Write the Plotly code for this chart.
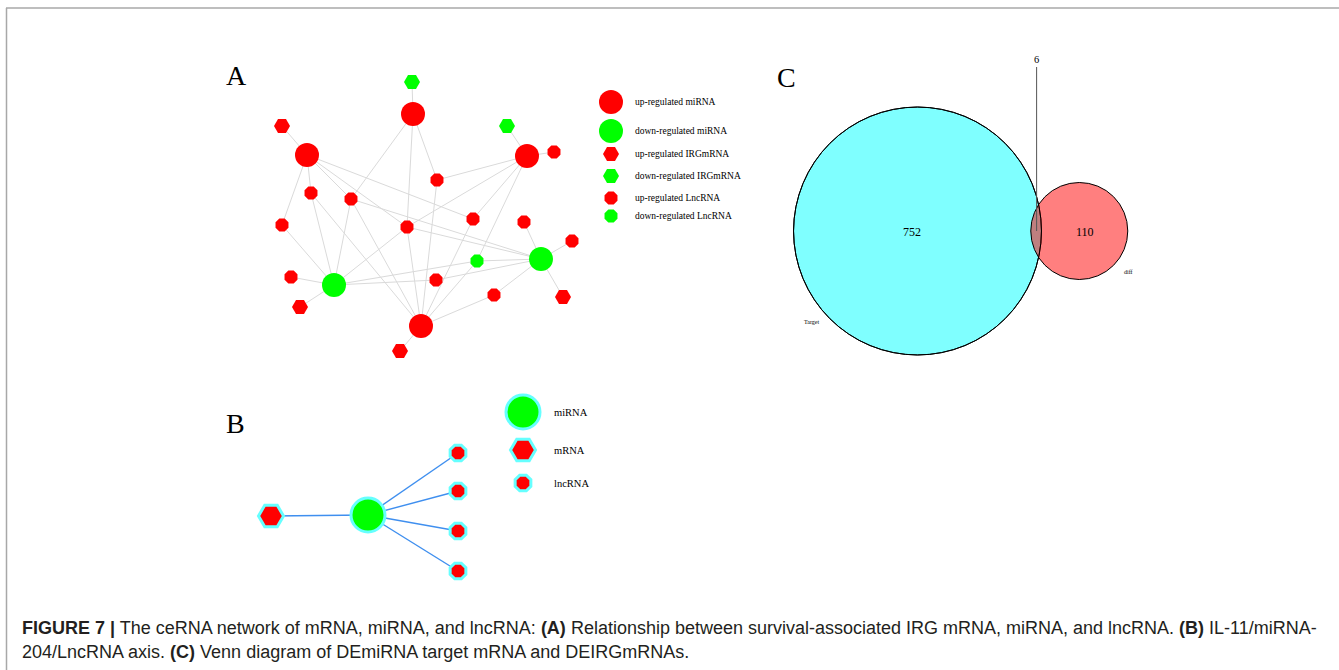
import math
import plotly.graph_objects as go

W, H = 1339, 670

# ---------------- Panel A: ceRNA network ----------------
a_x = [412, 413, 282, 307, 507, 527, 554, 437, 311, 351, 473, 524, 282,
       407, 572, 541, 477, 291, 334, 436, 494, 563, 300, 421, 400]
a_y = [82, 114, 126, 155, 126, 156, 152, 180, 193, 199, 219, 222, 225,
       227, 241, 259, 261, 277, 285, 280, 295, 297, 307, 326, 351]
a_type = ["mRNA", "miRNA", "mRNA", "miRNA", "mRNA", "miRNA", "lncRNA",
          "lncRNA", "lncRNA", "lncRNA", "lncRNA", "lncRNA", "lncRNA",
          "lncRNA", "lncRNA", "miRNA", "lncRNA", "lncRNA", "miRNA",
          "lncRNA", "lncRNA", "mRNA", "mRNA", "miRNA", "mRNA"]
a_reg = ["down", "up", "up", "up", "down", "up", "up", "up", "up", "up",
         "up", "up", "up", "up", "up", "down", "down", "up", "down", "up",
         "up", "up", "up", "up", "up"]
a_edges = [(0, 1), (2, 3), (1, 9), (1, 13), (1, 7), (3, 12), (3, 8), (3, 9),
           (3, 13), (3, 10), (5, 4), (5, 6), (5, 7), (5, 13), (5, 10),
           (5, 16), (15, 11), (15, 14), (15, 21), (15, 20), (15, 16),
           (15, 19), (15, 9), (15, 13), (18, 12), (18, 8), (18, 9),
           (18, 13), (18, 17), (18, 22), (18, 16), (18, 19), (23, 8),
           (23, 9), (23, 13), (23, 7), (23, 10), (23, 16), (23, 20),
           (23, 24)]

a_leg_labels = ["up-regulated miRNA", "down-regulated miRNA",
                "up-regulated IRGmRNA", "down-regulated IRGmRNA",
                "up-regulated LncRNA", "down-regulated LncRNA"]
a_leg_type = ["miRNA", "miRNA", "mRNA", "mRNA", "lncRNA", "lncRNA"]
a_leg_reg = ["up", "down", "up", "down", "up", "down"]
a_leg_y = [102, 131, 154, 176, 198, 216]

# ---------------- Panel B: IL-11/miRNA-204/LncRNA axis ----------------
b_x = [271, 368, 458, 458, 458, 458]
b_y = [516, 515, 453, 491, 531, 571]
b_type = ["mRNA", "miRNA", "lncRNA", "lncRNA", "lncRNA", "lncRNA"]
b_edges = [(0, 1), (1, 2), (1, 3), (1, 4), (1, 5)]
b_leg_labels = ["miRNA", "mRNA", "lncRNA"]
b_leg_y = [412, 450, 483]

# ---------------- Panel C: Venn ----------------
venn_names = ["Target", "diff"]
venn_only = [752, 110]
venn_both = 6

# ---------------- styles ----------------
SYMBOL = {"miRNA": "circle", "mRNA": "hexagon2", "lncRNA": "octagon"}
SIZE_A = {"miRNA": 24, "mRNA": 16, "lncRNA": 14}
SIZE_B = {"miRNA": 34, "mRNA": 25, "lncRNA": 17}
COLOR = {"up": "#FF0000", "down": "#00FF00"}
B_COLOR = {"miRNA": "#00FF00", "mRNA": "#FF0000", "lncRNA": "#FF0000"}
CYAN = "#66FFFF"
SERIF = "Liberation Serif"

fig = go.Figure()

# A edges
ex, ey = [], []
for i, j in a_edges:
    ex += [a_x[i], a_x[j], None]
    ey += [a_y[i], a_y[j], None]
fig.add_trace(go.Scatter(x=ex, y=ey, mode="lines",
                         line=dict(color="#DADADA", width=1),
                         hoverinfo="skip", showlegend=False))
# A nodes
fig.add_trace(go.Scatter(
    x=a_x, y=a_y, mode="markers",
    marker=dict(symbol=[SYMBOL[t] for t in a_type],
                size=[SIZE_A[t] for t in a_type], opacity=1,
                color=[COLOR[r] for r in a_reg], line=dict(width=0)),
    showlegend=False))
# A legend
leg_x = 611
fig.add_trace(go.Scatter(
    x=[leg_x] * len(a_leg_y), y=a_leg_y, mode="markers",
    marker=dict(symbol=[SYMBOL[t] for t in a_leg_type],
                size=[SIZE_A[t] for t in a_leg_type], opacity=1,
                color=[COLOR[r] for r in a_leg_reg], line=dict(width=0)),
    showlegend=False))

# B edges
bx, by = [], []
for i, j in b_edges:
    bx += [b_x[i], b_x[j], None]
    by += [b_y[i], b_y[j], None]
fig.add_trace(go.Scatter(x=bx, y=by, mode="lines",
                         line=dict(color="#3F8FEF", width=1.4),
                         hoverinfo="skip", showlegend=False))
fig.add_trace(go.Scatter(
    x=b_x, y=b_y, mode="markers",
    marker=dict(symbol=[SYMBOL[t] for t in b_type],
                size=[SIZE_B[t] for t in b_type], opacity=1,
                color=[B_COLOR[t] for t in b_type],
                line=dict(width=3, color=CYAN)),
    showlegend=False))
fig.add_trace(go.Scatter(
    x=[523] * 3, y=b_leg_y, mode="markers",
    marker=dict(symbol=[SYMBOL[t] for t in b_leg_labels],
                size=[SIZE_B[t] for t in b_leg_labels], opacity=1,
                color=[B_COLOR[t] for t in b_leg_labels],
                line=dict(width=3, color=CYAN)),
    showlegend=False))

annotations = []
for lab, y in zip(a_leg_labels, a_leg_y):
    annotations.append(dict(x=633, y=y, text=lab, showarrow=False,
                            xanchor="left", yanchor="middle",
                            font=dict(family=SERIF, size=9.5, color="#000")))
for lab, y in zip(b_leg_labels, b_leg_y):
    annotations.append(dict(x=552, y=y, text=lab, showarrow=False,
                            xanchor="left", yanchor="middle",
                            font=dict(family=SERIF, size=10.5, color="#000")))

# ---------------- Venn geometry from counts ----------------
px_per_unit = 63.7  # area scale (px^2 per element)
n1 = venn_only[0] + venn_both
n2 = venn_only[1] + venn_both
r1 = math.sqrt(n1 * px_per_unit / math.pi)
r2 = math.sqrt(n2 * px_per_unit / math.pi)
target = venn_both * px_per_unit


def lens(d):
    a1 = r1 ** 2 * math.acos((d * d + r1 * r1 - r2 * r2) / (2 * d * r1))
    a2 = r2 ** 2 * math.acos((d * d + r2 * r2 - r1 * r1) / (2 * d * r2))
    k = (-d + r1 + r2) * (d + r1 - r2) * (d - r1 + r2) * (d + r1 + r2)
    return a1 + a2 - 0.5 * math.sqrt(max(k, 0))


lo, hi = r1 - r2 + 1e-6, r1 + r2 - 1e-6
for _ in range(80):
    mid = (lo + hi) / 2
    if lens(mid) > target:
        lo = mid
    else:
        hi = mid
d = (lo + hi) / 2
cx1, cy = 917.5, 231
cx2 = cx1 + d
xint = cx1 + (d * d + r1 * r1 - r2 * r2) / (2 * d)

shapes = [
    dict(type="circle", xref="x", yref="y", x0=cx1 - r1, x1=cx1 + r1,
         y0=cy - r1, y1=cy + r1, fillcolor="rgba(0,255,255,0.5)",
         line=dict(color="black", width=1), layer="below"),
    dict(type="circle", xref="x", yref="y", x0=cx2 - r2, x1=cx2 + r2,
         y0=cy - r2, y1=cy + r2, fillcolor="rgba(255,0,0,0.5)",
         line=dict(color="black", width=1), layer="below"),
    dict(type="circle", xref="x", yref="y", x0=cx1 - r1, x1=cx1 + r1,
         y0=cy - r1, y1=cy + r1, fillcolor="rgba(0,0,0,0)",
         line=dict(color="black", width=1), layer="below"),
    dict(type="line", xref="x", yref="y", x0=xint - 2, x1=xint - 2,
         y0=67, y1=cy, line=dict(color="#555", width=1)),
    # figure frame
    dict(type="line", xref="x", yref="y", x0=6, x1=W, y0=8, y1=8,
         line=dict(color="#A8A8A8", width=1.5)),
    dict(type="line", xref="x", yref="y", x0=6.5, x1=6.5, y0=8, y1=H,
         line=dict(color="#A8A8A8", width=1.5)),
]

annotations += [
    dict(x=cx1 - 6, y=cy + 1, text=str(venn_only[0]), showarrow=False,
         font=dict(family=SERIF, size=12, color="#000")),
    dict(x=cx2 + 6, y=cy + 1, text=str(venn_only[1]), showarrow=False,
         font=dict(family=SERIF, size=12, color="#000")),
    dict(x=xint - 2, y=59, text=str(venn_both), showarrow=False,
         font=dict(family=SERIF, size=10.5, color="#000")),
    dict(x=811, y=322, text=venn_names[0], showarrow=False,
         font=dict(family=SERIF, size=6, color="#000")),
    dict(x=1128, y=272, text=venn_names[1], showarrow=False,
         font=dict(family=SERIF, size=6, color="#000")),
]

for letter, x, y in [("A", 236, 75), ("B", 235, 423), ("C", 786, 77)]:
    annotations.append(dict(x=x, y=y, text=letter, showarrow=False,
                            font=dict(family=SERIF, size=28, color="#000")))

cap1 = ("<b>FIGURE 7 |</b> The ceRNA network of mRNA, miRNA, and lncRNA: "
        "<b>(A)</b> Relationship between survival-associated IRG mRNA, miRNA, "
        "and lncRNA. <b>(B)</b> IL-11/miRNA-")
cap2 = ("204/LncRNA axis. <b>(C)</b> Venn diagram of DEmiRNA target mRNA "
        "and DEIRGmRNAs.")
for txt, y in [(cap1, 628), (cap2, 652)]:
    annotations.append(dict(x=20, y=y, text=txt, showarrow=False,
                            xanchor="left", yanchor="middle",
                            font=dict(family="Liberation Sans", size=18,
                                      color="#231F20")))

fig.update_layout(
    width=W, height=H, margin=dict(l=0, r=0, t=0, b=0),
    paper_bgcolor="white", plot_bgcolor="white",
    xaxis=dict(range=[0, W], visible=False, fixedrange=True),
    yaxis=dict(range=[H, 0], visible=False, fixedrange=True),
    shapes=shapes, annotations=annotations, showlegend=False,
)

fig.write_html("out.html")
